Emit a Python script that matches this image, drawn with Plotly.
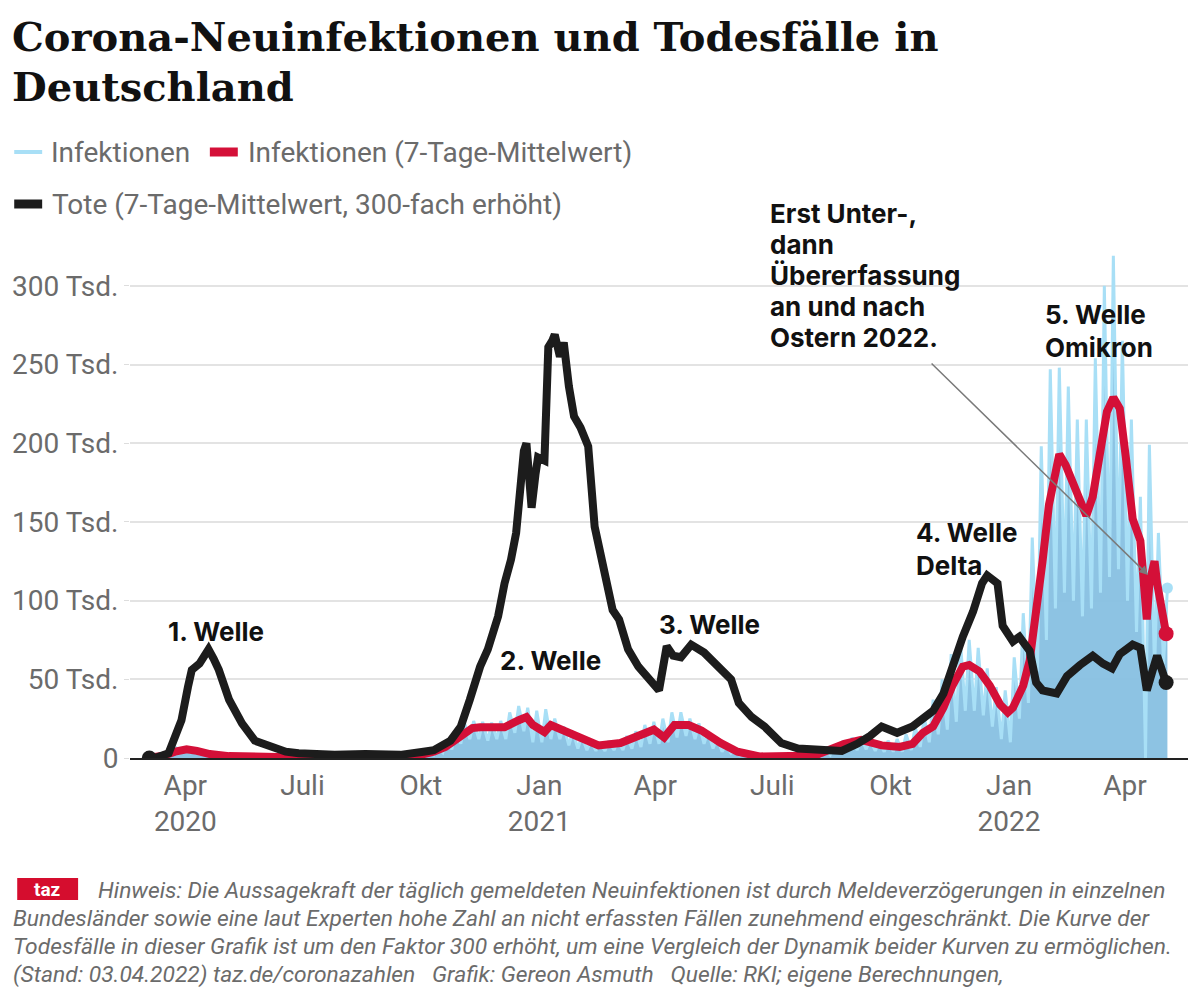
import plotly.graph_objects as go
import pandas as pd

# ---------------- data (values in thousands) ----------------
inf_week_start = "2020-03-02"
inf_peak = [0.2, 1.5, 4.5, 6.5, 6.2, 5.5, 4.0, 2.8, 1.8, 1.3, 0.9, 0.8, 0.7, 0.5, 0.5, 0.7, 0.7, 0.5,
            0.5, 0.5, 0.7, 0.9, 1.0, 1.4, 1.6, 1.7, 1.6, 1.6, 2.2, 2.3, 2.8, 4.0, 7.0, 11.5, 18, 22,
            23.5, 23, 22.5, 23.5, 29, 33, 32, 30,
            31, 25, 20, 17, 14, 11, 10, 11, 11, 14, 17, 21, 23, 25, 29, 29, 25, 22, 17, 13, 8, 5,
            3, 1.5, 1.0, 0.9, 1.0, 1.6, 2.2, 3.0, 3.5, 5, 8, 11, 13, 13, 12, 10, 11, 12, 15, 20, 26,
            37, 50, 66, 76, 75, 70, 57, 45, 43,
            64, 92, 140, 198, 247, 248, 236, 215, 215, 254, 300, 319, 265, 215, 166, 199, 143, 108]
inf_trough = [0.1, 1.0, 3.0, 4.0, 3.5, 2.5, 1.8, 1.2, 0.8, 0.6, 0.4, 0.4, 0.3, 0.3, 0.2, 0.4, 0.3, 0.3,
              0.2, 0.25, 0.3, 0.4, 0.5, 0.6, 0.7, 0.7, 0.8, 0.8, 0.9, 1.0, 1.2, 2.0, 3.5, 5.5, 9, 12,
              12, 11, 12, 12, 16, 17, 10, 10,
              12, 12, 8, 6, 5, 4.5, 4.5, 5, 5, 6, 7, 9, 9, 10, 13, 14, 12, 9, 6, 4, 3, 1.5,
              1, 0.5, 0.4, 0.4, 0.4, 0.6, 0.8, 1.1, 1.5, 2, 3, 4, 5, 5.5, 4.5, 4, 4, 4, 5, 7, 10,
              15, 18, 23, 30, 30, 27, 20, 12, 10,
              25, 35, 55, 75, 95, 105, 100, 90, 95, 105, 115, 120, 100, 80, 0, 55, 60, None]

mean_dates = ["2020-03-04", "2020-03-15", "2020-03-24", "2020-04-02", "2020-04-10", "2020-04-20",
              "2020-05-05", "2020-05-25", "2020-06-20", "2020-07-20", "2020-08-15", "2020-09-15",
              "2020-10-01", "2020-10-11", "2020-10-20", "2020-10-27", "2020-11-04", "2020-11-10",
              "2020-11-16", "2020-11-25", "2020-12-05", "2020-12-16", "2020-12-22", "2020-12-27",
              "2021-01-01", "2021-01-05", "2021-01-10", "2021-01-18", "2021-01-31", "2021-02-16",
              "2021-03-05", "2021-03-15", "2021-03-31", "2021-04-08", "2021-04-16", "2021-04-27",
              "2021-05-07", "2021-05-22", "2021-06-04", "2021-06-21", "2021-07-10", "2021-07-25",
              "2021-08-06", "2021-08-26", "2021-09-08", "2021-09-24", "2021-10-08", "2021-10-18",
              "2021-10-26", "2021-11-03", "2021-11-11", "2021-11-18", "2021-11-26", "2021-12-01",
              "2021-12-09", "2021-12-17", "2021-12-25", "2021-12-31", "2022-01-04", "2022-01-12",
              "2022-01-17", "2022-01-22", "2022-01-27", "2022-02-01", "2022-02-09", "2022-02-14",
              "2022-02-22", "2022-03-02", "2022-03-07", "2022-03-12", "2022-03-18", "2022-03-23",
              "2022-03-28", "2022-04-02", "2022-04-07", "2022-04-13", "2022-04-15", "2022-04-18",
              "2022-04-20", "2022-04-24", "2022-04-26", "2022-04-30", "2022-05-03"]
mean_vals = [0.2, 1.5, 4, 5.5, 4.5, 2.5, 1.2, 0.6, 0.5, 0.5, 1.2, 1.5,
             2, 4, 7, 11, 16, 19, 19.5, 19, 19.5, 24, 26, 21,
             18, 16.5, 21, 18, 12.7, 8, 9.5, 12.7, 18, 13, 21, 21,
             17.5, 9.5, 4, 1, 0.8, 1.5, 2.5, 9, 11.5, 8, 7, 9,
             16, 20, 32, 46, 58, 59, 55, 46, 34, 29, 32, 46,
             62, 91, 125, 161, 193, 186, 170, 154, 166, 193, 220, 229,
             222, 189, 152, 138, 114, 88, 111, 125, 111, 93, 79]

death_dates = ["2020-03-04", "2020-03-10", "2020-03-19", "2020-03-24", "2020-03-29", "2020-04-03",
               "2020-04-06", "2020-04-12", "2020-04-16", "2020-04-19", "2020-04-23", "2020-04-27",
               "2020-05-05", "2020-05-10", "2020-05-15", "2020-05-25", "2020-06-08", "2020-06-18",
               "2020-06-28", "2020-07-12", "2020-07-26", "2020-08-19", "2020-09-15", "2020-10-03",
               "2020-10-11", "2020-10-24", "2020-11-01", "2020-11-08", "2020-11-16", "2020-11-22",
               "2020-11-30", "2020-12-05", "2020-12-10", "2020-12-14", "2020-12-17", "2020-12-20",
               "2020-12-22", "2020-12-26", "2020-12-29", "2020-12-31", "2021-01-05", "2021-01-08",
               "2021-01-11", "2021-01-13", "2021-01-17", "2021-01-20", "2021-01-24", "2021-01-28",
               "2021-02-02", "2021-02-08", "2021-02-13", "2021-02-18", "2021-02-23", "2021-02-27",
               "2021-03-04", "2021-03-11", "2021-03-19", "2021-03-27", "2021-04-04", "2021-04-10",
               "2021-04-15", "2021-04-21", "2021-04-29", "2021-05-09", "2021-05-20", "2021-05-30",
               "2021-06-05", "2021-06-15", "2021-06-25", "2021-07-08", "2021-07-21", "2021-08-05",
               "2021-08-24", "2021-09-05", "2021-09-15", "2021-09-24", "2021-10-06", "2021-10-18",
               "2021-10-29", "2021-11-03", "2021-11-11", "2021-11-18", "2021-11-26", "2021-12-04",
               "2021-12-11", "2021-12-15", "2021-12-23", "2021-12-27", "2022-01-04", "2022-01-09",
               "2022-01-17", "2022-01-22", "2022-01-27", "2022-02-07", "2022-02-15", "2022-02-25",
               "2022-03-07", "2022-03-15", "2022-03-22", "2022-03-28", "2022-04-07", "2022-04-13",
               "2022-04-18", "2022-04-23", "2022-04-26", "2022-05-03"]
death_vals = [0, 0.5, 3, 12, 24, 45, 56, 60, 66, 69, 63, 56,
              37, 28, 22, 11, 7, 4, 3, 2, 2, 2.5, 2, 4,
              5, 11, 20, 37, 58, 69, 90, 111, 126, 143, 177, 195,
              200, 159, 180, 191, 189, 261, 265, 269, 255, 264, 236, 217,
              210, 198, 147, 130, 111, 94, 88, 69, 58, 51, 43, 71,
              65, 64, 72, 67, 58, 50, 35, 26, 20, 9.5, 6, 5,
              4.5, 9, 14, 20, 16, 20, 26, 30, 41, 59, 77, 93,
              111, 116, 111, 84, 74, 77, 68, 48, 43, 41, 52, 59,
              65, 60, 57, 66, 72, 70, 43, 57, 65, 48]

tick_dates = ["2020-04-01", "2020-07-01", "2020-10-01", "2021-01-01", "2021-04-01",
              "2021-07-01", "2021-10-01", "2022-01-01", "2022-04-01"]
tick_text = ["Apr<br>2020", "Juli", "Okt", "Jan<br>2021", "Apr", "Juli", "Okt", "Jan<br>2022", "Apr"]
y_ticks = [0, 50, 100, 150, 200, 250, 300]
y_text = ["0", "50 Tsd.", "100 Tsd.", "150 Tsd.", "200 Tsd.", "250 Tsd.", "300 Tsd."]

# ---------------- layout geometry (page pixels; the page body has an 8px margin) ----------------
OFF = 8
W, H = 1200 - OFF * 2, 1003 - OFF * 2
PL, PR, PT, PB = 128, 1188, 239, 758          # plot area in page pixels
PW, PH = PR - PL, PB - PT
ML, MT = PL - OFF, PT - OFF
MR, MB = W - (PR - OFF), H - (PB - OFF)


def px(x):
    return (x - PL) / PW


def py(y):
    return (PB - y) / PH


LIGHT = "#a8dff6"
FILL = "rgba(135,192,226,0.95)"
RED = "#d41038"
BLACK = "#1c1c1c"
GRAY = "#6b6b6b"
SANS = "Roboto, Inter, Liberation Sans, sans-serif"
BOLD = "Inter, Roboto, Liberation Sans, sans-serif"

# daily infections: peak mid-week, trough at weekend
ws = pd.date_range(inf_week_start, periods=len(inf_peak), freq="7D")
inf_x, inf_y = [], []
for d, p, t in zip(ws, inf_peak, inf_trough):
    inf_x.append(d + pd.Timedelta(days=2))
    inf_y.append(p)
    if t is not None:
        inf_x.append(d + pd.Timedelta(days=6))
        inf_y.append(t)

fig = go.Figure()
fig.add_trace(go.Scatter(x=inf_x, y=inf_y, mode="lines", fill="tozeroy", fillcolor=FILL,
                         line=dict(color=LIGHT, width=3), hoverinfo="skip"))
fig.add_trace(go.Scatter(x=[inf_x[0], inf_x[-1]], y=[inf_y[0], inf_y[-1]], mode="markers",
                         marker=dict(color=LIGHT, size=11), hoverinfo="skip"))
fig.add_trace(go.Scatter(x=mean_dates, y=mean_vals, mode="lines",
                         line=dict(color=RED, width=8), hoverinfo="skip"))
fig.add_trace(go.Scatter(x=[mean_dates[-1]], y=[mean_vals[-1]], mode="markers",
                         marker=dict(color=RED, size=15), hoverinfo="skip"))
fig.add_trace(go.Scatter(x=death_dates, y=death_vals, mode="lines",
                         line=dict(color=BLACK, width=8), hoverinfo="skip"))
fig.add_trace(go.Scatter(x=[death_dates[0], death_dates[-1]], y=[death_vals[0], death_vals[-1]],
                         mode="markers", marker=dict(color=BLACK, size=15), hoverinfo="skip"))

ann = []


def text(x, y, s, size=26, color="#111", family=SANS, xanchor="left", yanchor="middle", **kw):
    ann.append(dict(x=px(x), y=py(y), xref="paper", yref="paper", text=s, showarrow=False,
                    xanchor=xanchor, yanchor=yanchor, align="left",
                    font=dict(size=size, color=color, family=family), **kw))


# title
text(8, 36, "<b>Corona-Neuinfektionen und Todesfälle in</b>", size=40,
     family="DejaVu Serif, serif")
text(8, 86, "<b>Deutschland</b>", size=40, family="DejaVu Serif, serif")

# legend
text(47, 152, "Infektionen", size=28, color=GRAY)
text(244, 152, "Infektionen (7-Tage-Mittelwert)", size=28, color=GRAY)
text(48, 204, "Tote (7-Tage-Mittelwert, 300-fach erhöht)", size=28, color=GRAY)

# wave labels
text(164, 631, "<b>1. Welle</b>", size=26, family=BOLD)
text(497, 660, "<b>2. Welle</b>", size=26, family=BOLD)
text(656, 624, "<b>3. Welle</b>", size=26, family=BOLD)
text(913, 532, "<b>4. Welle</b>", size=26, family=BOLD)
text(913, 565, "<b>Delta</b>", size=26, family=BOLD)
text(1043, 314, "<b>5. Welle</b>", size=26, family=BOLD)
text(1043, 347, "<b>Omikron</b>", size=26, family=BOLD)
for i, s in enumerate(["Erst Unter-,", "dann", "Übererfassung", "an und nach", "Ostern 2022."]):
    text(767, 213 + i * 31, "<b>" + s + "</b>", size=26, family=BOLD)

# arrow
ann.append(dict(x=px(1148), y=py(575), xref="paper", yref="paper", ax=930 - 1148, ay=362 - 575,
                axref="pixel", ayref="pixel", text="", showarrow=True, arrowhead=2,
                arrowsize=1.2, arrowwidth=1.5, arrowcolor="#7a7a7a"))

# footer
foot = ["<i>Hinweis: Die Aussagekraft der täglich gemeldeten Neuinfektionen ist durch Meldeverzögerungen in einzelnen</i>",
        "<i>Bundesländer sowie eine laut Experten hohe Zahl an nicht erfassten Fällen zunehmend eingeschränkt. Die Kurve der</i>",
        "<i>Todesfälle in dieser Grafik ist um den Faktor 300 erhöht, um eine Vergleich der Dynamik beider Kurven zu ermöglichen.</i>",
        "<i>(Stand: 03.04.2022) taz.de/coronazahlen   Grafik: Gereon Asmuth   Quelle: RKI; eigene Berechnungen,</i>"]
text(94, 890, foot[0], size=22.8, color=GRAY)
for i in range(1, 4):
    text(9, 890 + i * 28, foot[i], size=22.8, color=GRAY)
text(45, 889, "<b>taz</b>", size=19, color="white", xanchor="center")

shapes = [
    dict(type="line", xref="paper", yref="paper", x0=px(12), x1=px(40), y0=py(152), y1=py(152),
         line=dict(color=LIGHT, width=4)),
    dict(type="line", xref="paper", yref="paper", x0=px(208), x1=px(236), y0=py(152), y1=py(152),
         line=dict(color=RED, width=9)),
    dict(type="line", xref="paper", yref="paper", x0=px(12), x1=px(40), y0=py(204), y1=py(204),
         line=dict(color=BLACK, width=9)),
    dict(type="rect", xref="paper", yref="paper", x0=px(15), x1=px(76), y0=py(900), y1=py(878),
         fillcolor="#d50d2e", line=dict(width=0), layer="below"),
]

fig.update_layout(
    width=W, height=H, margin=dict(l=ML, r=MR, t=MT, b=MB),
    paper_bgcolor="white", plot_bgcolor="white", showlegend=False,
    annotations=ann, shapes=shapes,
    xaxis=dict(type="date", range=["2020-02-18", "2022-05-20"], tickvals=tick_dates,
               ticktext=tick_text, showgrid=False, showline=True, linecolor="#222", linewidth=2,
               ticks="outside", ticklen=1, tickcolor="rgba(0,0,0,0)",
               tickfont=dict(size=28, color=GRAY, family=SANS)),
    yaxis=dict(range=[0, PH / 1.574], tickvals=y_ticks, ticktext=y_text, showgrid=True,
               gridcolor="#e3e3e3", gridwidth=1.5, zeroline=False, showline=False,
               ticks="outside", ticklen=5, tickcolor="#dddddd",
               tickfont=dict(size=28, color=GRAY, family=SANS)),
)

fig.write_html("out.html")
